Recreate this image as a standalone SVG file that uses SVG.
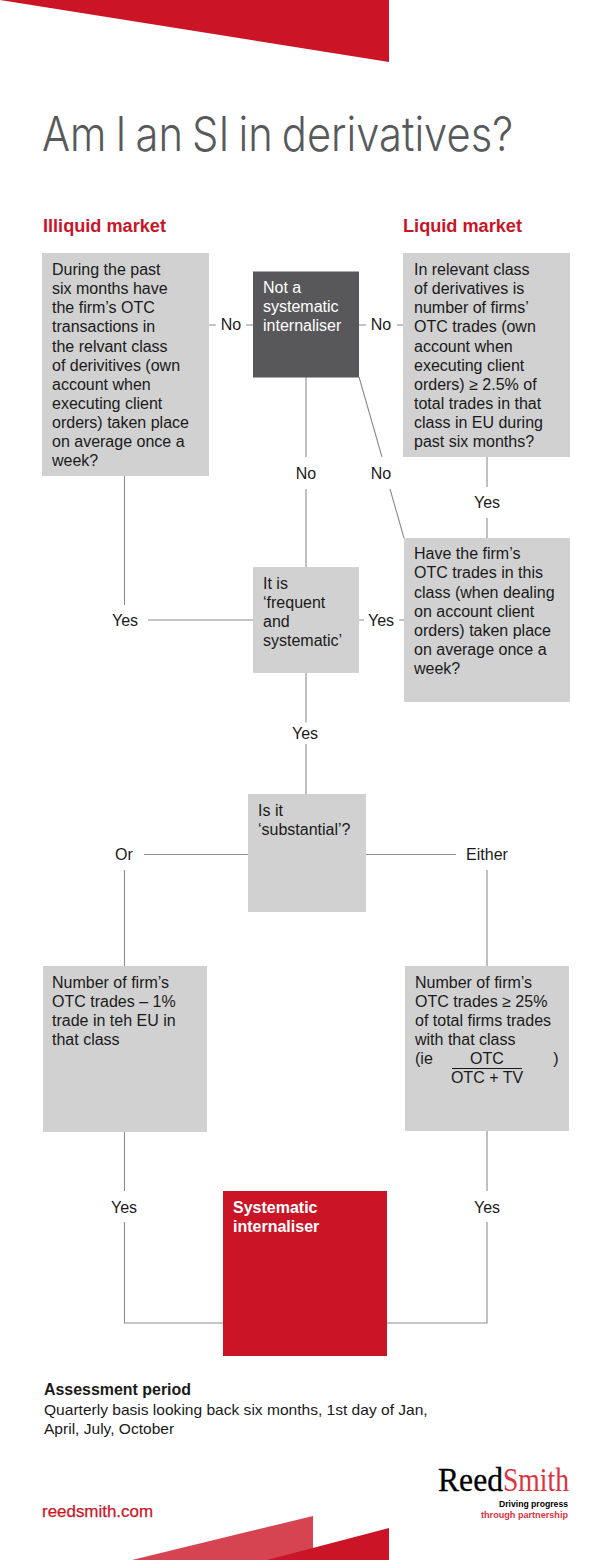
<svg xmlns="http://www.w3.org/2000/svg" width="612" height="1560" viewBox="0 0 612 1560">
<style>
text{font-family:"Liberation Sans",Arial,sans-serif;font-size:16px;fill:#1a1a1a}
.g{fill:#d1d1d1}
.l{stroke:#8c8c8c;stroke-width:1.1;fill:none}
.h{font-size:18px;font-weight:bold;fill:#c91527}
.w{fill:#fff}
.m{text-anchor:middle}
</style>
<rect width="612" height="1560" fill="#fff"/>
<path d="M0 0H389V62Z" fill="#cb1527"/>
<path d="M132 1560L313 1516V1560Z" fill="#d64452"/>
<path d="M267 1560L389 1528V1560Z" fill="#cb1527"/>
<text x="42" y="151" style="font-family:Inter,'Liberation Sans',sans-serif;font-weight:300;font-size:48px;word-spacing:-3px;fill:#58595b" textLength="471" lengthAdjust="spacingAndGlyphs">Am I an SI in derivatives?</text>
<text x="43" y="232" class="h" textLength="123" lengthAdjust="spacingAndGlyphs">Illiquid market</text>
<text x="403" y="232" class="h" textLength="119" lengthAdjust="spacingAndGlyphs">Liquid market</text>
<g id="connectors">
<path class="l" d="M209 325H216M246 325H253M359 325H366M397 325H403"/>
<path class="l" d="M306 377V457M306 489V567"/>
<path class="l" d="M359 377L382 457M390 489L404 538"/>
<path class="l" d="M487 457V487M487 518V538"/>
<path class="l" d="M124.500 476V605M148 620H253M359 620H364M399 620H404"/>
<path class="l" d="M306 673V722.500M306 744V794"/>
<path class="l" d="M144 854.500H248M366 854.500H456M124.500 870V966M487 870V966"/>
<path class="l" d="M124.500 1132V1191M124.500 1222V1323H223M487 1131V1191M487 1222V1323H387"/>
</g>
<g id="node-illiquid"><rect class="g" x="42" y="253" width="167" height="223"/>
<text><tspan x="52" y="275">During the past</tspan><tspan x="52" y="294">six months have</tspan><tspan x="52" y="313">the firm’s OTC</tspan><tspan x="52" y="332">transactions in</tspan><tspan x="52" y="352">the relvant class</tspan><tspan x="52" y="371">of derivitives (own</tspan><tspan x="52" y="390">account when</tspan><tspan x="52" y="409">executing client</tspan><tspan x="52" y="428">orders) taken place</tspan><tspan x="52" y="447">on average once a</tspan><tspan x="52" y="466">week?</tspan></text></g>
<g id="node-not-si"><rect x="253" y="271.500" width="106" height="106" fill="#58585a"/>
<text class="w"><tspan x="263" y="293">Not a</tspan><tspan x="263" y="312">systematic</tspan><tspan x="263" y="331">internaliser</tspan></text></g>
<g id="node-liquid"><rect class="g" x="403" y="253" width="167" height="204"/>
<text><tspan x="414" y="275">In relevant class</tspan><tspan x="414" y="294">of derivatives is</tspan><tspan x="414" y="313">number of firms’</tspan><tspan x="414" y="332">OTC trades (own</tspan><tspan x="414" y="352">account when</tspan><tspan x="414" y="371">executing client</tspan><tspan x="414" y="390">orders) ≥ 2.5% of</tspan><tspan x="414" y="409">total trades in that</tspan><tspan x="414" y="428">class in EU during</tspan><tspan x="414" y="447">past six months?</tspan></text></g>
<g id="node-account"><rect class="g" x="404" y="538" width="166" height="164"/>
<text><tspan x="414" y="559">Have the firm’s</tspan><tspan x="414" y="578">OTC trades in this</tspan><tspan x="414" y="598">class (when dealing</tspan><tspan x="414" y="617">on account client</tspan><tspan x="414" y="636">orders) taken place</tspan><tspan x="414" y="655">on average once a</tspan><tspan x="414" y="674">week?</tspan></text></g>
<g id="node-frequent"><rect class="g" x="253" y="567" width="106" height="106"/>
<text><tspan x="263" y="589">It is</tspan><tspan x="263" y="608">‘frequent</tspan><tspan x="263" y="627">and</tspan><tspan x="263" y="646">systematic’</tspan></text></g>
<g id="node-substantial"><rect class="g" x="248" y="794" width="118" height="118"/>
<text><tspan x="258" y="816">Is it</tspan><tspan x="258" y="835">‘substantial’?</tspan></text></g>
<g id="node-one-percent"><rect class="g" x="43" y="966" width="164" height="166"/>
<text><tspan x="52" y="988">Number of firm’s</tspan><tspan x="52" y="1007">OTC trades – 1%</tspan><tspan x="52" y="1026">trade in teh EU in</tspan><tspan x="52" y="1045">that class</tspan></text></g>
<g id="node-25-percent"><rect class="g" x="405" y="966" width="164" height="165"/>
<text><tspan x="415" y="988">Number of firm’s</tspan><tspan x="415" y="1007">OTC trades ≥ 25%</tspan><tspan x="415" y="1026">of total firms trades</tspan><tspan x="415" y="1045">with that class</tspan><tspan x="415" y="1064">(ie</tspan></text>
<text x="487" y="1064" class="m">OTC</text><text x="556" y="1064" class="m">)</text>
<path d="M452 1068.500H522" stroke="#1a1a1a" fill="none"/>
<text x="487" y="1083" class="m">OTC + TV</text></g>
<g id="node-si"><rect x="223" y="1191" width="164" height="165" fill="#cb1527"/>
<text style="font-weight:bold" class="w"><tspan x="233" y="1213" class="w">Systematic</tspan><tspan x="233" y="1232" class="w">internaliser</tspan></text></g>
<g id="labels">
<text x="231" y="330" class="m">No</text><text x="381" y="330" class="m">No</text>
<text x="306" y="479" class="m">No</text><text x="381" y="479" class="m">No</text>
<text x="487" y="508" class="m">Yes</text><text x="125" y="626" class="m">Yes</text><text x="381" y="626" class="m">Yes</text>
<text x="305" y="739" class="m">Yes</text><text x="124" y="860" class="m">Or</text><text x="487" y="860" class="m">Either</text>
<text x="124" y="1213" class="m">Yes</text><text x="487" y="1213" class="m">Yes</text>
</g>
<g id="footer">
<text x="44" y="1395" style="font-weight:bold" textLength="147" lengthAdjust="spacingAndGlyphs">Assessment period</text>
<text style="font-size:15.550px"><tspan x="44" y="1415">Quarterly basis looking back six months, 1st day of Jan,</tspan><tspan x="44" y="1434">April, July, October</tspan></text>
<text x="42" y="1517" style="font-size:17px;fill:#cb1527;stroke:#cb1527;stroke-width:.25" textLength="111" lengthAdjust="spacingAndGlyphs">reedsmith.com</text>
<text x="438" y="1491" style="font-family:'Liberation Serif',serif;font-size:33px;fill:#000;stroke:#000;stroke-width:.3" textLength="65" lengthAdjust="spacingAndGlyphs">Reed</text>
<text x="503" y="1491" style="font-family:'Liberation Serif',serif;font-size:33px;fill:#df3342" textLength="66" lengthAdjust="spacingAndGlyphs">Smith</text>
<text x="568" y="1507" text-anchor="end" style="font-size:9px;font-weight:bold;fill:#000" textLength="69" lengthAdjust="spacingAndGlyphs">Driving progress</text>
<text x="568" y="1518" text-anchor="end" style="font-size:9.200px;font-weight:bold;fill:#df3342" textLength="87" lengthAdjust="spacingAndGlyphs">through partnership</text>
</g>
</svg>
